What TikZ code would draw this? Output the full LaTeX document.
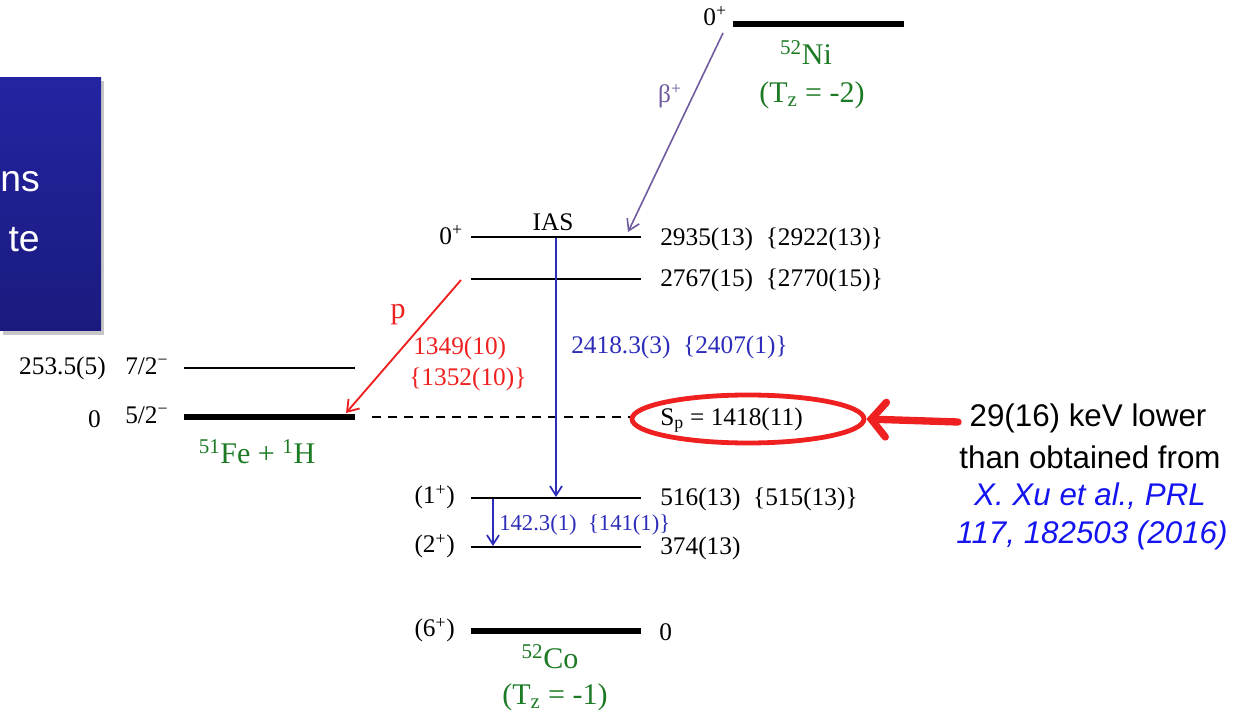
\documentclass[tikz,border=0pt]{standalone}
\usepackage{fontspec}
\setmainfont{Liberation Serif}
\newfontfamily\arialf{Liberation Sans}
\usetikzlibrary{arrows.meta,shadows,shapes.geometric}
\definecolor{ngreen}{RGB}{28,122,36}
\definecolor{tblue}{RGB}{45,45,185}
\definecolor{pred}{RGB}{238,32,32}
\definecolor{bpurple}{RGB}{112,90,160}
\definecolor{boxtop}{RGB}{36,36,162}
\definecolor{boxbot}{RGB}{26,26,126}
\definecolor{refblue}{RGB}{20,20,240}
\begin{document}
\begin{tikzpicture}[x=0.75pt,y=-0.75pt,
  lev/.style={line width=1.6pt},
  gnd/.style={line width=4pt},
  lbl/.style={font=\fontsize{19}{22}\selectfont, inner sep=0pt},
  slbl/.style={font=\fontsize{17}{20}\selectfont, inner sep=0pt},
  grn/.style={font=\fontsize{22.5}{26}\selectfont, text=ngreen, inner sep=0pt},
  note/.style={font=\arialf\fontsize{23.5}{28.9}\selectfont, inner sep=0pt, align=center},
  gam/.style={draw=tblue, line width=1.3pt, -{Straight Barb[length=7pt,width=9pt]}},
]
\useasboundingbox (0,0) rectangle (1241,712);

% blue box on the left (cut)
\begin{scope}
\clip (0,0) rectangle (1241,712);
\fill[black!22] (3,81) rectangle (104,335);
\shade[top color=boxtop, bottom color=boxbot] (-20,78) rectangle (101,331);
\node[font=\arialf\fontsize{28}{34}\selectfont, text=white, anchor=base east, inner sep=0pt] (t1) at (40,192) {ns};
\node[font=\arialf\fontsize{28}{34}\selectfont, text=white, anchor=base east, inner sep=0pt] (t2) at (40,252) {te};
\end{scope}

% level end points
\coordinate (ni-l) at (733,24);   \coordinate (ni-r) at (904,24);
\coordinate (ias-l) at (471,237); \coordinate (ias-r) at (641,237);
\coordinate (l27-l) at (471,279); \coordinate (l27-r) at (641,279);
\coordinate (fe7-l) at (184,368); \coordinate (fe7-r) at (355,368);
\coordinate (fe5-l) at (184,417); \coordinate (fe5-r) at (355,417);
\coordinate (sp-l) at (372,417);  \coordinate (sp-r) at (633,417);
\coordinate (l1-l) at (471,498);  \coordinate (l1-r) at (641,498);
\coordinate (l2-l) at (471,547);  \coordinate (l2-r) at (641,547);
\coordinate (l6-l) at (471,631);  \coordinate (l6-r) at (641,631);

\draw[gnd] (ni-l) -- (ni-r);
\draw[lev] (ias-l) -- (ias-r);
\draw[lev] (l27-l) -- (l27-r);
\draw[lev] (fe7-l) -- (fe7-r);
\draw[gnd] (fe5-l) -- (fe5-r);
\draw[line width=1.1pt, dash pattern=on 7pt off 5pt] (sp-l) -- (sp-r);
\draw[lev] (l1-l) -- (l1-r);
\draw[lev] (l2-l) -- (l2-r);
\draw[gnd] (l6-l) -- (l6-r);

% level labels
\node[lbl, anchor=east] (ni-sp) at (727,16) {0\textsuperscript{+}};
\node[lbl] (ias) at (553,222) {IAS};
\node[lbl, anchor=east] (ias-sp) at (463,235) {0\textsuperscript{+}};
\node[lbl, anchor=west] (ias-e) at (660,239) {2935(13)\ \ \{2922(13)\}};
\node[lbl, anchor=west] (l27-e) at (660,280) {2767(15)\ \ \{2770(15)\}};
\node[lbl, anchor=east] (fe7-e) at (106,368) {253.5(5)};
\node[lbl, anchor=west] (fe7-sp) at (125,366) {7/2\textsuperscript{−}};
\node[lbl, anchor=east] (fe5-e) at (101,419) {0};
\node[lbl, anchor=west] (fe5-sp) at (125,415) {5/2\textsuperscript{−}};
\node[lbl, anchor=west] (sp) at (660,420) {S\textsubscript{p} = 1418(11)};
\node[lbl, anchor=east] (l1-sp) at (455,497) {(1\textsuperscript{+})};
\node[lbl, anchor=west] (l1-e) at (660,499) {516(13)\ \ \{515(13)\}};
\node[lbl, anchor=east] (l2-sp) at (455,546) {(2\textsuperscript{+})};
\node[lbl, anchor=west] (l2-e) at (660,548) {374(13)};
\node[lbl, anchor=east] (l6-sp) at (455,630) {(6\textsuperscript{+})};
\node[lbl, anchor=west] (l6-e) at (659,632) {0};

% nucleus labels
\node[grn] (ni) at (806,53) {\textsuperscript{52}Ni};
\node[grn] (ni-t) at (812,95) {(T\textsubscript{z} = -2)};
\node[grn] (fe) at (257,452) {\textsuperscript{51}Fe + \textsuperscript{1}H};
\node[grn] (co) at (550,657) {\textsuperscript{52}Co};
\node[grn] (co-t) at (555,697) {(T\textsubscript{z} = -1)};

% beta decay
\coordinate (b-s) at (723,33);
\coordinate (b-e) at (628,232);
\draw[draw=bpurple, line width=1.2pt, -{Straight Barb[length=8pt,width=10pt]}] (b-s) -- (b-e);
\node[lbl, text=bpurple] (beta) at (670,96) {β\textsuperscript{+}};

% gamma transitions
\coordinate (g1-s) at (556,238);
\coordinate (g1-e) at (556,497);
\draw[gam] (g1-s) -- (g1-e);
\node[lbl, text=tblue, anchor=west] (g1) at (571,347) {2418.3(3)\ \ \{2407(1)\}};
\coordinate (g2-s) at (493,499);
\coordinate (g2-e) at (493,546);
\draw[gam] (g2-s) -- (g2-e);
\node[slbl, text=tblue, anchor=west] (g2) at (499,525) {142.3(1)\ \ \{141(1)\}};

% proton emission
\coordinate (p-s) at (461,280);
\coordinate (p-e) at (346,413);
\draw[draw=pred, line width=1.4pt, -{Straight Barb[length=8pt,width=11pt]}] (p-s) -- (p-e);
\node[grn, text=pred] (p) at (398,315) {p};
\node[lbl, text=pred, anchor=west] (p1) at (413,348) {1349(10)};
\node[lbl, text=pred, anchor=west] (p2) at (409,379) {\{1352(10)\}};

% highlight ellipse and arrow
\node[draw=pred, line width=3.6pt, ellipse, minimum width=174pt, minimum height=36pt, inner sep=0pt] (ell) at (748,419) {};
\coordinate (a-s) at (958,422);
\draw[draw=pred, line width=5.5pt, line cap=round, -{Straight Barb[length=11pt,width=26pt,line cap=round]}] (a-s) -- (ell.east);

% note
\node[note] (n1) at (1088,418) {29(16) keV lower};
\node[note] (n2) at (1090,457) {than obtained from};
\node[note, text=refblue, font=\arialf\itshape\fontsize{23.5}{28.9}\selectfont] (n3) at (1090,496) {X. Xu et al., PRL};
\node[note, text=refblue, font=\arialf\itshape\fontsize{23.5}{28.9}\selectfont] (n4) at (1092,535) {117, 182503 (2016)};
\end{tikzpicture}
\end{document}
